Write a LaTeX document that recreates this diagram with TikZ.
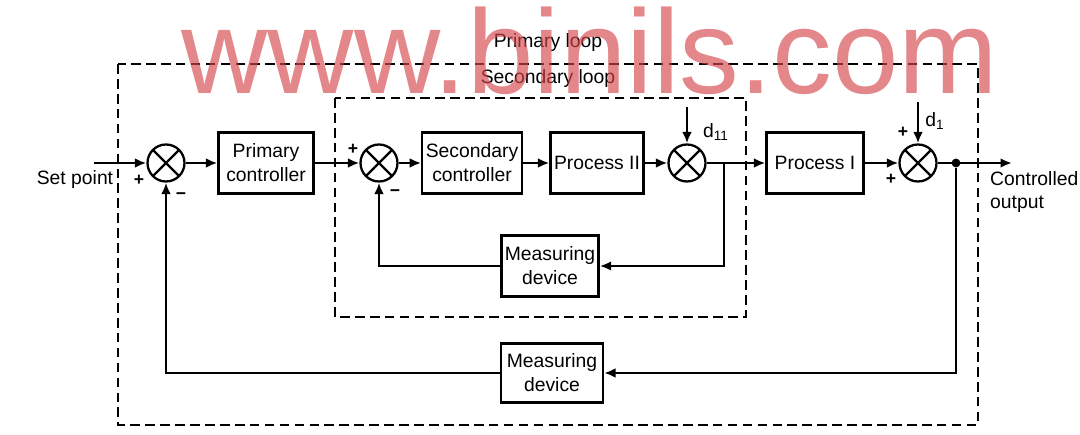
\documentclass[tikz,border=0pt]{standalone}
\usepackage{fontspec}
\setmainfont{Liberation Sans}
\usetikzlibrary{arrows.meta}
\definecolor{wmred}{RGB}{214,70,75}
\tikzset{
    block/.style={
        draw,
        line width=1.3pt,
        minimum width=1.9cm,
        minimum height=1.22cm,
        inner sep=2pt,
        align=center
    },
    sumpt/.style={
        circle,
        draw,
        line width=1.3pt,
        minimum size=0.74cm,
        inner sep=0pt,
        path picture={\draw[line width=1.3pt] (path picture bounding box.south west) -- (path picture bounding box.north east)
            (path picture bounding box.north west) -- (path picture bounding box.south east);}
    },
    junction/.style={circle, fill, inner sep=0pt, minimum size=5pt},
    line/.style={-{Latex[length=6.5pt,width=5.5pt]}, line width=1.3pt},
    loopline/.style={line width=1.3pt, dash pattern=on 5.5pt off 3pt},
    sign/.style={inner sep=0pt, font=\fontsize{10pt}{12pt}\selectfont\bfseries},
    note/.style={align=left},
    watermark/.style={text=wmred, opacity=0.65, inner sep=0pt, font=\fontsize{68pt}{70pt}\selectfont},
    every node/.style={font=\fontsize{11pt}{13.6pt}\selectfont}
}
\begin{document}
\begin{tikzpicture}[x=0.02cm,y=-0.02cm]
\useasboundingbox (0,0) rectangle (1080,435);

% Loops
\draw[loopline] (118,64) rectangle (978,425);
\draw[loopline] (335,98) rectangle (746,317);
\node (plabel) at (548,43) {Primary loop};
\node (slabel) at (548,79) {Secondary loop};

% Forward path
\coordinate (sp) at (94,163);
\node[sumpt] (s1) at (166,163) {};
\node[block] (pc) at (266,163) {Primary\\controller};
\node[sumpt] (s2) at (379,163) {};
\node[block, minimum width=1.96cm] (sc) at (472,163) {Secondary\\controller};
\node[block, minimum width=1.84cm] (p2) at (597,163) {Process II};
\node[sumpt] (s3) at (687,163) {};
\node[block, minimum width=1.94cm] (p1) at (815,163) {Process I};
\node[sumpt] (s4) at (918,163) {};
\node[junction] (jn) at (956,163) {};
\coordinate (out) at (1012,163);
\coordinate (d11in) at (687,107);
\coordinate (d1in) at (918,102);
\coordinate (br) at (724,163);

% Measuring devices
\node[block, minimum width=1.92cm] (md1) at (550,266) {Measuring\\device};
\node[block, minimum width=2.04cm, minimum height=1.18cm] (md2) at (552,373) {Measuring\\device};

% Labels
\node[anchor=base] (splabel) at (75,185) {Set point};
\node[note, anchor=west] (outlabel) at (984,192) {Controlled\\output};
\node (d11) at (716,132) {d\textsubscript{11}};
\node (d1) at (935,121) {d\textsubscript{1}};
\node[sign] (s1p) at (139,180) {+};
\node[sign] (s1m) at (181,196) {−};
\node[sign] (s2p) at (353,149) {+};
\node[sign] (s2m) at (395,193) {−};
\node[sign] (s4p) at (903,132) {+};
\node[sign] (s4q) at (891,179) {+};

% Connectors
\draw[line] (sp) -- (s1);
\draw[line] (s1) -- (pc);
\draw[line] (pc) -- (s2);
\draw[line] (s2) -- (sc);
\draw[line] (sc) -- (p2);
\draw[line] (p2) -- (s3);
\draw[line] (s3) -- (p1);
\draw[line] (p1) -- (s4);
\draw[line] (s4) -- (out);
\draw[line] (d11in) -- (s3);
\draw[line] (d1in) -- (s4);
\draw[line] (br) |- (md1);
\draw[line] (md1) -| (s2);
\draw[line] (jn) |- (md2);
\draw[line] (md2) -| (s1);

% Watermark
\node[watermark, anchor=base] (wm) at (590,94) {www.binils.com};
\end{tikzpicture}
\end{document}
